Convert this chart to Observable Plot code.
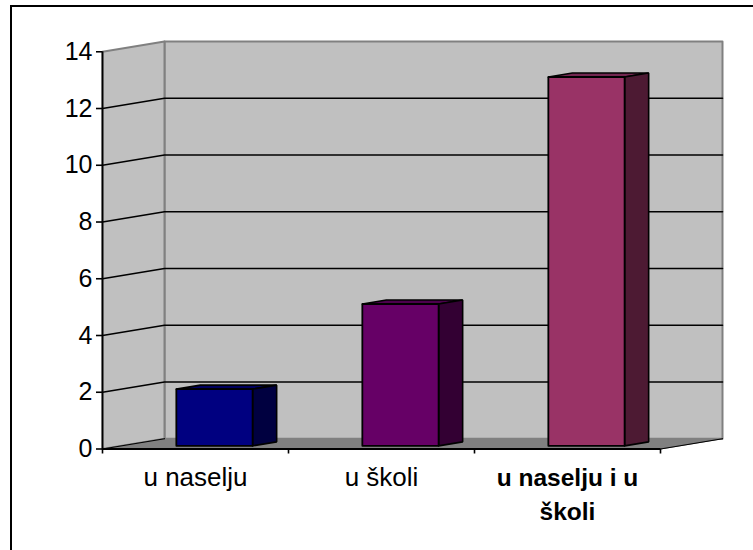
<!DOCTYPE html>
<html>
<head>
<meta charset="utf-8">
<script src="https://cdn.jsdelivr.net/npm/d3@7"></script>
<script src="https://cdn.jsdelivr.net/npm/@observablehq/plot@0.6"></script>
<style>
  html, body { margin: 0; padding: 0; background: #fff; overflow: hidden; }
  #chart { position: absolute; left: 0; top: 0; width: 753px; height: 550px; overflow: hidden; }
  #chart svg { position: absolute; left: 0; top: 0; }
  #border { position: absolute; left: 10px; top: 5px; width: 760px; height: 560px; border: 2px solid #000; }
</style>
</head>
<body>
<div id="chart"><div id="border"></div></div>
<script>
// Survey answers per category
const categories = ["u naselju", "u školi", "u naselju i u\nškoli"];
const values = [2, 5, 13];
const frontColors = ["#000080", "#660066", "#993366"];
const sideColors = ["#000040", "#330033", "#4d1a33"];
const topColors = ["#000060", "#4d004d", "#732650"];
const yTicks = [0, 2, 4, 6, 8, 10, 12, 14];
const xTicks = [0, 1, 2, 3];

const yMax = 14;
const xMax = categories.length;

// Oblique 3D: one unit of depth shifts a point along both data axes
const depthX = 1 / 3;
const depthY = 0.362;
const at = (x, y, depth = 0) => ({x: x + depth * depthX, y: y + depth * depthY});
const poly = (...pts) => [...pts, pts[0]];

// Bar dimensions in category and depth units
const barWidth = 0.41;
const barNear = 0.306;
const barFar = 0.694;

const wall = "#c0c0c0";
const edge = "#808080";
const faces = [];
const face = (pts, fill, stroke, strokeWidth) => faces.push({pts, fill, stroke, strokeWidth});

// Back wall, side wall and floor
face(poly(at(0, 0, 1), at(xMax, 0, 1), at(xMax, yMax, 1), at(0, yMax, 1)), wall, edge, 2);
face(poly(at(0, 0, 0), at(0, 0, 1), at(0, yMax, 1), at(0, yMax, 0)), wall, edge, 2);
face(poly(at(0, 0, 0), at(xMax, 0, 0), at(xMax, 0, 1), at(0, 0, 1)), edge, edge, 1);

const gridLines = yTicks.filter(v => v > 0 && v < yMax)
  .map(v => [at(0, v, 0), at(0, v, 1), at(xMax, v, 1)]);

const floorEdges = [
  [at(0, 0, 0), at(0, 0, 1)],
  [at(xMax, 0, 0), at(xMax, 0, 1)]
];

// Each column is a front, a top and a right-hand face
values.forEach((v, i) => {
  const l = i + 0.5 - barWidth / 2;
  const r = i + 0.5 + barWidth / 2;
  const dl = l + barNear * depthX, dr = r + barNear * depthX;
  const sh = barNear * depthY;
  const bar = {
    fbl: {x: dl, y: sh}, fbr: {x: dr, y: sh},
    ftl: {x: dl, y: v + sh}, ftr: {x: dr, y: v + sh}
  };
  const span = (barFar - barNear);
  const back = p => ({x: p.x + span * depthX, y: p.y + span * depthY});
  face(poly(bar.ftl, bar.ftr, back(bar.ftr), back(bar.ftl)), topColors[i], "#000", 1.6);
  face(poly(bar.fbr, back(bar.fbr), back(bar.ftr), bar.ftr), sideColors[i], "#000", 1.6);
  face(poly(bar.fbl, bar.fbr, bar.ftr, bar.ftl), frontColors[i], "#000", 1.8);
});

const fontFamily = "'Liberation Sans', Arial, sans-serif";
const labels = categories.map((name, i) => ({name, x: i + 0.5, bold: i === categories.length - 1}));

const plot = Plot.plot({
  width: 753,
  height: 550,
  marginLeft: 102,
  marginRight: 31,
  marginTop: 41,
  marginBottom: 101.5,
  style: {background: "transparent", overflow: "visible"},
  x: {type: "linear", domain: [0, xMax + depthX], axis: null},
  y: {type: "linear", domain: [0, yMax + depthY], axis: null},
  marks: [
    ...faces.slice(0, 3).map(f => Plot.line(f.pts, {x: "x", y: "y", fill: f.fill, stroke: f.stroke, strokeWidth: f.strokeWidth})),
    ...gridLines.map(g => Plot.line(g, {x: "x", y: "y", stroke: "#000", strokeWidth: 1.6})),
    ...floorEdges.map(g => Plot.line(g, {x: "x", y: "y", stroke: "#000", strokeWidth: 1.2})),
    ...faces.slice(3).map(f => Plot.line(f.pts, {x: "x", y: "y", fill: f.fill, stroke: f.stroke, strokeWidth: f.strokeWidth, strokeLinejoin: "miter"})),
    // Front axes
    Plot.ruleX([0], {y1: 0, y2: yMax, stroke: "#000", strokeWidth: 1.8}),
    Plot.ruleY([0], {x1: 0, x2: xMax, stroke: "#000", strokeWidth: 1.8}),
    Plot.ruleY(yTicks, {y: d => d, x1: 0, x2: 0, insetLeft: -6, stroke: "#000", strokeWidth: 1.6}),
    Plot.text(yTicks, {y: d => d, x: 0, text: d => String(d), textAnchor: "end", dx: -10, fill: "#000", fontFamily, fontSize: 25}),
    Plot.ruleX(xTicks, {x: d => d, y1: 0, y2: 0, insetBottom: -5, stroke: "#000", strokeWidth: 1.6}),
    Plot.text(labels.filter(d => !d.bold), {x: "x", y: 0, text: "name", dy: 19, lineAnchor: "top", fill: "#000", fontFamily, fontSize: 26}),
    Plot.text(labels.filter(d => d.bold), {x: "x", y: 0, text: "name", dy: 13, lineAnchor: "top", lineHeight: 1.39, fontWeight: "bold", fill: "#000", fontFamily, fontSize: 24.5})
  ]
});
document.getElementById("chart").appendChild(plot);
</script>
</body>
</html>
